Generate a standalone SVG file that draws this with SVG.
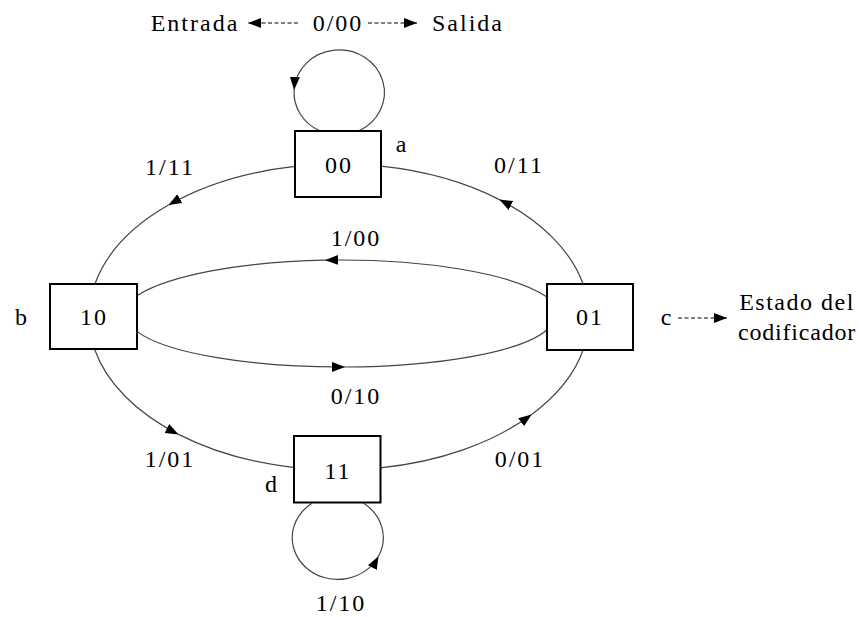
<svg xmlns="http://www.w3.org/2000/svg" width="859" height="617" viewBox="0 0 859 617">
<style>
text{font-family:"Liberation Serif","Times New Roman",serif;font-size:24px;letter-spacing:2px;fill:#000;text-anchor:middle}
.st{fill:#fff;stroke:#000;stroke-width:2}
.e{fill:none;stroke:#444;stroke-width:1.2}
.d{fill:none;stroke:#000;stroke-width:1.2;stroke-dasharray:4 2.5}
</style>
<defs>
<marker id="ah" markerUnits="userSpaceOnUse" markerWidth="13" markerHeight="11" viewBox="0 0 13 11" refX="13" refY="5.5" orient="auto">
<path d="M0,0.5 L13,5.5 L0,10.5 Z" fill="#000" stroke="none"/>
</marker>
</defs>
<rect width="859" height="617" fill="#fff"/>
<g id="connectors">
<path class="e" d="M583.1,284 A250,153 0 0 0 499.3,199.6" marker-end="url(#ah)"/>
<path class="e" d="M499.3,199.6 A250,153 0 0 0 381,166.2"/>
<path class="e" d="M295,166.4 A250,153 0 0 0 168.5,205.1" marker-end="url(#ah)"/>
<path class="e" d="M168.5,205.1 A250,153 0 0 0 94.9,284"/>
<path class="e" d="M94.5,349 A250,153 0 0 0 178.5,434.4" marker-end="url(#ah)"/>
<path class="e" d="M178.5,434.4 A250,153 0 0 0 293,467.4"/>
<path class="e" d="M380,467.9 A250,153 0 0 0 531.6,414.5" marker-end="url(#ah)"/>
<path class="e" d="M531.6,414.5 A250,153 0 0 0 583.5,349"/>
<path class="e" d="M547,297 A220,57 0 0 0 325,260.15" marker-end="url(#ah)"/>
<path class="e" d="M325,260.15 A220,57 0 0 0 137,295.7"/>
<path class="e" d="M137,331.4 A213,50 0 0 0 345,367" marker-end="url(#ah)"/>
<path class="e" d="M345,367 A213,50 0 0 0 547,329.7"/>
<path class="e" d="M358.3,131 A45.2,42.5 0 1 0 294.1,90" marker-end="url(#ah)"/>
<path class="e" d="M294.1,90 A45.2,42.5 0 0 0 320.1,131"/>
<path class="e" d="M312,503.3 A45.5,41.7 0 1 0 378.5,556.2" marker-end="url(#ah)"/>
<path class="e" d="M378.5,556.2 A45.5,41.7 0 0 0 363.6,503.3"/>
<path class="d" d="M298,23 L248,23" marker-end="url(#ah)"/>
<path class="d" d="M368,23 L417,23" marker-end="url(#ah)"/>
<path class="d" d="M678,318 L727,318" marker-end="url(#ah)"/>
</g>
<g id="node-a">
<rect class="st" x="295" y="131" width="86" height="66"/>
<text x="339" y="173">00</text>
<text x="402" y="152">a</text>
</g>
<g id="node-b">
<rect class="st" x="50" y="284" width="87" height="65"/>
<text x="94" y="325">10</text>
<text x="22" y="325">b</text>
</g>
<g id="node-c">
<rect class="st" x="547" y="284" width="86" height="66"/>
<text x="590" y="325">01</text>
<text x="667" y="325">c</text>
</g>
<g id="node-d">
<rect class="st" x="294" y="436" width="86.5" height="66.5"/>
<text x="338" y="479">11</text>
<text x="272" y="492">d</text>
</g>
<g id="labels">
<text x="195" y="31">Entrada</text>
<text x="338" y="31">0/00</text>
<text x="468" y="31">Salida</text>
<text x="170" y="175">1/11</text>
<text x="519" y="173">0/11</text>
<text x="356" y="246">1/00</text>
<text x="356" y="404">0/10</text>
<text x="170" y="467">1/01</text>
<text x="520" y="467">0/01</text>
<text x="341" y="611">1/10</text>
<text x="797" y="310" style="letter-spacing:1.5px">Estado del</text>
<text x="797" y="340" style="letter-spacing:0.8px">codificador</text>
</g>
</svg>
